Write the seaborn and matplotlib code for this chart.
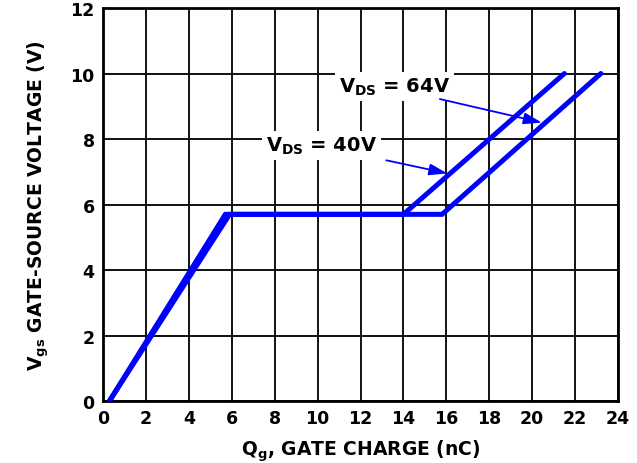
import matplotlib
matplotlib.use("Agg")
import matplotlib.pyplot as plt
import seaborn as sns
import pandas as pd

# Data
qg_40 = [0.3, 5.7, 14.0, 21.5]
vgs_40 = [0.0, 5.7, 5.7, 10.0]
qg_64 = [0.3, 5.9, 15.8, 23.2]
vgs_64 = [0.0, 5.7, 5.7, 10.0]
x_ticks = list(range(0, 25, 2))
y_ticks = list(range(0, 13, 2))

df = pd.concat([
    pd.DataFrame({"Qg": qg_40, "Vgs": vgs_40, "VDS": "40V"}),
    pd.DataFrame({"Qg": qg_64, "Vgs": vgs_64, "VDS": "64V"}),
])

sns.set_style("white")
plt.rcParams["font.family"] = ["DejaVu Sans"]
plt.rcParams["text.color"] = "black"
plt.rcParams["axes.labelcolor"] = "black"
plt.rcParams["xtick.color"] = "black"
plt.rcParams["ytick.color"] = "black"

fig = plt.figure(figsize=(6.37, 4.64), dpi=100)
ax = fig.add_axes([0.1617, 0.1336, 0.8085, 0.847])

sns.lineplot(data=df, x="Qg", y="Vgs", hue="VDS", palette=["#0000ff", "#0000ff"],
             sort=False, estimator=None, linewidth=3.6, legend=False, ax=ax,
             solid_joinstyle="miter", zorder=3)

ax.set_xlim(0, 24)
ax.set_ylim(0, 12)
ax.set_xticks(x_ticks)
ax.set_yticks(y_ticks)
ax.grid(True, color="#111111", linewidth=1.4)
ax.set_axisbelow(True)
for s in ax.spines.values():
    s.set_color("black")
    s.set_linewidth(2)
ax.tick_params(length=0, labelsize=12.5, pad=6)
for lbl in ax.get_xticklabels() + ax.get_yticklabels():
    lbl.set_fontweight("bold")

ax.set_xlabel(r"$\mathbf{Q_g}$, GATE CHARGE (nC)", fontsize=13.5, fontweight="bold", labelpad=7)
ax.set_ylabel(r"$\mathbf{V_{gs}}$ GATE-SOURCE VOLTAGE (V)", fontsize=13.5, fontweight="bold", labelpad=14)

bbox = dict(boxstyle="square,pad=0.2", fc="white", ec="none")
ax.text(13.6, 9.6, r"$\mathbf{V_{DS}}$ = 64V", fontsize=14, fontweight="bold",
        ha="center", va="center", bbox=bbox, zorder=4)
ax.text(10.2, 7.8, r"$\mathbf{V_{DS}}$ = 40V", fontsize=14, fontweight="bold",
        ha="center", va="center", bbox=bbox, zorder=4)

arrow = dict(arrowstyle="-|>,head_length=1.1,head_width=0.35", color="#0000ff",
             lw=1.3, shrinkA=0, shrinkB=0)
ax.annotate("", xy=(20.45, 8.5), xytext=(15.7, 9.22), arrowprops=arrow, zorder=5)
ax.annotate("", xy=(16.05, 6.95), xytext=(13.2, 7.35), arrowprops=arrow, zorder=5)

fig.savefig("out.png", dpi=100)
